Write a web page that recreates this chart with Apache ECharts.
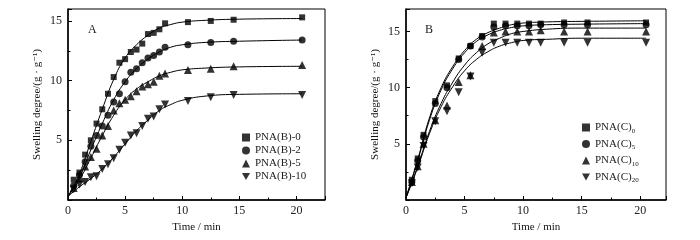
<!DOCTYPE html>
<html>
<head>
    <meta charset="utf-8" />
    <title>Swelling kinetics</title>
    <script src="https://cdn.jsdelivr.net/npm/echarts@6/dist/echarts.min.js"></script>
    <style>
        body { margin: 0; background: #fff; }
        #chart { width: 700px; height: 240px; }
    </style>
</head>
<body>
<div id="chart"></div>
<script type="text/javascript">
    // ---- panel A : PNA(B) samples ----
    var timeA = [0.5, 1, 1.5, 2, 2.5, 3, 3.5, 4, 4.5, 5, 5.5, 6, 6.5, 7, 7.5, 8, 8.5, 10.5, 12.5, 14.5, 20.5];
    var pnaB0 = [1.7, 2.3, 3.8, 5.0, 6.4, 7.6, 8.9, 10.3, 11.5, 11.8, 12.4, 12.6, 13.1, 13.9, 14.0, 14.3, 14.8, 14.9, 15.0, 15.1, 15.3];
    var pnaB2 = [1.2, 2.1, 3.2, 4.5, 5.4, 6.2, 7.1, 8.2, 8.9, 9.9, 10.7, 11.0, 11.5, 11.9, 12.1, 12.4, 12.8, 13.0, 13.2, 13.3, 13.4];
    var pnaB5 = [1.0, 1.8, 2.8, 3.6, 4.3, 5.4, 6.2, 7.5, 8.1, 8.4, 8.7, 9.1, 9.5, 9.7, 9.9, 10.4, 10.6, 10.9, 11.0, 11.2, 11.3];
    var pnaB10 = [0.9, 1.3, 1.5, 1.9, 2.0, 2.6, 3.0, 3.5, 4.2, 4.8, 5.4, 5.6, 6.2, 6.8, 7.0, 7.6, 8.0, 8.3, 8.6, 8.8, 8.8];

    var fitTime = [0, 1, 2, 3, 4, 5, 6, 7, 8, 9, 10, 12, 15, 20.5];
    var fitB0 = [0.3, 2.2, 4.9, 7.6, 10.1, 11.9, 13.0, 13.8, 14.4, 14.7, 14.9, 15.05, 15.15, 15.2];
    var fitB2 = [0.3, 1.9, 4.2, 6.4, 8.4, 9.9, 11.0, 11.8, 12.4, 12.8, 13.0, 13.2, 13.3, 13.4];
    var fitB5 = [0.3, 1.7, 3.5, 5.4, 7.1, 8.4, 9.3, 9.9, 10.4, 10.7, 10.9, 11.05, 11.15, 11.2];
    var fitB10 = [0.3, 1.1, 1.8, 2.6, 3.6, 4.7, 5.8, 6.7, 7.5, 8.0, 8.35, 8.7, 8.85, 8.9];

    // ---- panel B : PNA(C) samples ----
    var timeB = [0.5, 1, 1.5, 2.5, 3.5, 4.5, 5.5, 6.5, 7.5, 8.5, 9.5, 10.5, 11.5, 13.5, 15.5, 20.5];
    var pnaC0 = [1.8, 3.7, 5.8, 8.8, 10.2, 12.6, 13.7, 14.6, 15.7, 15.7, 15.7, 15.7, 15.7, 15.8, 15.8, 15.8];
    var pnaC5 = [1.6, 3.5, 5.6, 8.6, 10.0, 12.5, 13.7, 14.5, 15.4, 15.5, 15.5, 15.5, 15.6, 15.6, 15.6, 15.6];
    var pnaC10 = [1.6, 3.0, 5.0, 7.1, 8.4, 10.5, 11.1, 13.7, 14.9, 15.0, 15.0, 15.0, 15.1, 15.0, 15.0, 15.0];
    var pnaC20 = [1.5, 2.9, 4.8, 7.0, 7.9, 9.6, 11.0, 13.1, 14.0, 14.0, 14.0, 14.0, 14.0, 14.0, 14.0, 14.0];

    var fitC0 = [0.2, 3.6, 7.3, 10.0, 11.9, 13.3, 14.3, 14.9, 15.3, 15.6, 15.75, 15.85, 15.9, 15.95];
    var fitC5 = [0.2, 3.5, 7.1, 9.8, 11.7, 13.1, 14.1, 14.7, 15.1, 15.35, 15.5, 15.6, 15.65, 15.7];
    var fitC10 = [0.2, 3.0, 6.1, 8.6, 10.5, 12.0, 13.1, 13.9, 14.4, 14.8, 15.0, 15.2, 15.3, 15.3];
    var fitC20 = [0.2, 2.9, 5.9, 8.3, 10.1, 11.5, 12.5, 13.2, 13.7, 14.0, 14.2, 14.3, 14.4, 14.4];

    var namesA = ['PNA(B)-0', 'PNA(B)-2', 'PNA(B)-5', 'PNA(B)-10'];
    var namesB = ['PNA(C)_0', 'PNA(C)_5', 'PNA(C)_10', 'PNA(C)_20'];

    var downTri = 'path://M0,0 L10,0 L5,9 Z';
    var symbols = ['rect', 'circle', 'triangle', downTri];
    var symSizes = [6, 7, 8, 8];
    var font = '"Liberation Serif", "DejaVu Serif", serif';
    var ink = '#222';

    function zip(xs, ys) {
        return xs.map(function (x, i) { return [x, ys[i]]; });
    }

    function xAxisFor(idx, max) {
        return {
            gridIndex: idx, type: 'value', min: 0, max: max, interval: 5,
            name: 'Time / min', nameLocation: 'middle', nameGap: 15,
            nameTextStyle: { fontFamily: font, fontSize: 11, color: '#111' },
            axisLine: { lineStyle: { color: '#000', width: 1.5 } },
            axisTick: { inside: true, length: 4, lineStyle: { color: '#000' } },
            minorTick: { show: true, splitNumber: 2, length: 2.5, lineStyle: { color: '#000' } },
            axisLabel: { showMaxLabel: false, margin: 5, fontFamily: font, fontSize: 12, color: ink },
            splitLine: { show: false }
        };
    }

    function yAxisFor(idx, max) {
        return {
            gridIndex: idx, type: 'value', min: 0, max: max, interval: 5,
            name: 'Swelling degree/(g · g⁻¹)', nameLocation: 'middle', nameGap: 25,
            nameTextStyle: { fontFamily: font, fontSize: 11, color: '#111' },
            axisLine: { lineStyle: { color: '#000', width: 1.5 } },
            axisTick: { inside: true, length: 4, lineStyle: { color: '#000' } },
            minorTick: { show: true, splitNumber: 2, length: 2.5, lineStyle: { color: '#000' } },
            axisLabel: { showMinLabel: false, showMaxLabel: false, margin: 6, fontFamily: font, fontSize: 12, color: ink },
            splitLine: { show: false }
        };
    }

    function scatter(name, idx, xs, ys, k) {
        return {
            name: name, type: 'scatter', xAxisIndex: idx, yAxisIndex: idx,
            symbol: symbols[k], symbolSize: symSizes[k],
            itemStyle: { color: '#000' },
            data: zip(xs, ys), z: 3
        };
    }

    function fit(idx, ys) {
        return {
            name: 'fit', type: 'line', xAxisIndex: idx, yAxisIndex: idx,
            smooth: 0.5, showSymbol: false, silent: true,
            lineStyle: { color: '#000', width: 1 },
            data: zip(fitTime, ys), z: 2
        };
    }

    var chart = echarts.init(document.getElementById('chart'), null, { renderer: 'canvas' });

    var option = {
        animation: false,
        backgroundColor: '#fff',
        grid: [
            { left: 68, top: 9, width: 257, height: 191, show: true, borderColor: '#000', borderWidth: 1 },
            { left: 406, top: 9, width: 260, height: 191, show: true, borderColor: '#000', borderWidth: 1 }
        ],
        xAxis: [xAxisFor(0, 22.5), xAxisFor(1, 22.2)],
        yAxis: [yAxisFor(0, 16), yAxisFor(1, 17)],
        legend: [
            {
                data: namesA, orient: 'vertical', left: 237, top: 126,
                itemWidth: 8, itemHeight: 8, itemGap: 0,
                textStyle: { fontFamily: font, fontSize: 11, color: ink, lineHeight: 13 }
            },
            {
                data: namesB, orient: 'vertical', left: 577, top: 117,
                itemWidth: 8, itemHeight: 8, itemGap: 4,
                formatter: function (n) {
                    var p = n.split('_');
                    return '{m|' + p[0] + '}{s|' + p[1] + '}';
                },
                textStyle: {
                    fontFamily: font, fontSize: 11, color: ink,
                    rich: {
                        m: { fontFamily: font, fontSize: 11, color: ink, lineHeight: 14 },
                        s: { fontFamily: font, fontSize: 7, color: ink, verticalAlign: 'bottom', padding: [6, 0, 0, 0] }
                    }
                }
            }
        ],
        graphic: [
            { type: 'text', left: 88, top: 24, style: { text: 'A', font: '12px ' + font, fill: ink } },
            { type: 'text', left: 425, top: 24, style: { text: 'B', font: '12px ' + font, fill: ink } }
        ],
        series: [
            fit(0, fitB0), fit(0, fitB2), fit(0, fitB5), fit(0, fitB10),
            scatter(namesA[0], 0, timeA, pnaB0, 0),
            scatter(namesA[1], 0, timeA, pnaB2, 1),
            scatter(namesA[2], 0, timeA, pnaB5, 2),
            scatter(namesA[3], 0, timeA, pnaB10, 3),
            fit(1, fitC0), fit(1, fitC5), fit(1, fitC10), fit(1, fitC20),
            scatter(namesB[0], 1, timeB, pnaC0, 0),
            scatter(namesB[1], 1, timeB, pnaC5, 1),
            scatter(namesB[2], 1, timeB, pnaC10, 2),
            scatter(namesB[3], 1, timeB, pnaC20, 3)
        ]
    };
    chart.setOption(option);
</script>
</body>
</html>
